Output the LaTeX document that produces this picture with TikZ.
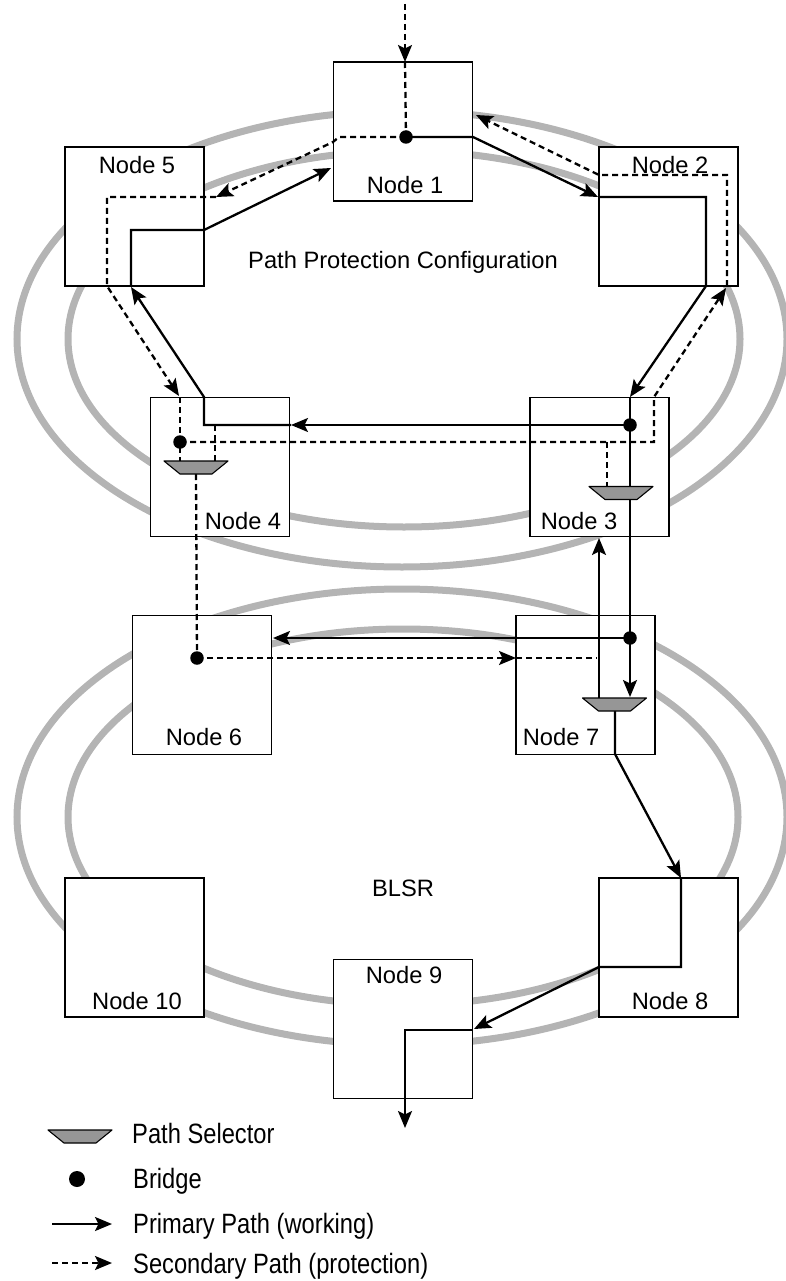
\documentclass[tikz,border=0pt]{standalone}
\usepackage{fontspec}
\setmainfont{Liberation Sans}
\usetikzlibrary{arrows.meta}
\definecolor{ringgray}{RGB}{180,180,180}
\definecolor{selgray}{RGB}{150,150,150}
\tikzset{
  ring/.style={draw=ringgray, line width=7pt},
  nbox/.style={draw=black, fill=white, line width=1.8pt, minimum width=139pt, minimum height=139pt, inner sep=0pt},
  nlabel/.style={inner sep=0pt, font=\fontsize{23.7}{28}\selectfont},
  prim/.style={draw=black, line width=2.3pt},
  sec/.style={draw=black, line width=2.3pt, dash pattern=on 6pt off 4pt},
  tip/.style={-{Stealth[length=17pt,width=14pt,inset=3.5pt]}},
  bridge/.style={circle, fill=black, minimum size=13.5pt, inner sep=0pt},
  selpic/.pic={\draw[line width=1.1pt, fill=selgray, line join=round] (-32,-6.5) -- (32,-6.5) -- (16,6.5) -- (-16,6.5) -- cycle;}
}
\begin{document}
\begin{tikzpicture}[x=1pt,y=-1pt]
\useasboundingbox (0,0) rectangle (786,1281);
% rings
\draw[ring] (402,339) ellipse [x radius=385pt, y radius=228pt];
\draw[ring] (404,339) ellipse [x radius=336pt, y radius=188pt];
\draw[ring] (402,817) ellipse [x radius=385pt, y radius=228pt];
\draw[ring] (403,817) ellipse [x radius=335pt, y radius=188pt];
% boxes
\node[nbox] (n1) at (403,131.5) {};
\node[nbox] (n5) at (134.5,216.5) {};
\node[nbox] (n2) at (668.5,216.5) {};
\node[nbox] (n4) at (220,467) {};
\node[nbox] (n3) at (599.5,467) {};
\node[nbox] (n6) at (202,685) {};
\node[nbox] (n7) at (585.5,685) {};
\node[nbox] (n10) at (134.5,947.5) {};
\node[nbox] (n8) at (668.5,947.5) {};
\node[nbox] (n9) at (403,1029) {};
% labels
\node[nlabel] (l1) at (405,185) {Node 1};
\node[nlabel] (l5) at (137,165) {Node 5};
\node[nlabel] (l2) at (670,165) {Node 2};
\node[nlabel] (l4) at (243,521) {Node 4};
\node[nlabel] (l3) at (579,521) {Node 3};
\node[nlabel] (l6) at (204,737) {Node 6};
\node[nlabel] (l7) at (561,737) {Node 7};
\node[nlabel] (l10) at (137,1001) {Node 10};
\node[nlabel] (l8) at (670,1001) {Node 8};
\node[nlabel] (l9) at (404,975) {Node 9};
\node[nlabel, anchor=base] (ppc) at (403,269) {Path Protection Configuration};
\node[nlabel] (blsr) at (403,888.5) {BLSR};
% bridges (coordinates first)
\coordinate (b1) at (406,137);
\coordinate (b3) at (630,425);
\coordinate (b4) at (180,442);
\coordinate (b6) at (197,658);
\coordinate (b7) at (630,638);
% primary path
\draw[prim,tip] (b1) -- (473,137) -- (598,197);
\draw[prim,tip] (599,197) -- (706,197) -- (706,286) -- (630,397);
\draw[prim] (630,397) -- (b7);
\draw[prim,tip] (b3) -- (291,425);
\draw[prim,tip] (291,425) -- (204,425) -- (204,397) -- (131,287);
\draw[prim,tip] (131,286) -- (131,230) -- (204,230) -- (331,168);
\draw[prim,tip] (b7) -- (273,638);
\draw[prim,tip] (b7) -- (630,697);
\draw[prim,tip] (599,698) -- (599,538);
\draw[prim,tip] (615,711) -- (615,754) -- (681,878);
\draw[prim,tip] (681,878) -- (681,967) -- (599,967) -- (474,1029);
\draw[prim,tip] (473,1030) -- (405,1030) -- (405,1128);
% secondary path
\draw[sec,tip] (405,4) -- (405,62);
\draw[sec] (405,62) -- (b1);
\draw[sec,tip] (b1) -- (339,137) -- (333,142) -- (216,197);
\draw[sec,tip] (216,197) -- (107,197) -- (107,286) -- (179,396);
\draw[sec] (180,397) -- (180,461);
\draw[sec] (215,425) -- (215,461);
\draw[sec] (196,474) -- (b6);
\draw[sec,tip] (b4) -- (654,442) -- (654,397) -- (726,288);
\draw[sec,tip] (727,286) -- (727,175) -- (599,175) -- (476,115);
\draw[sec] (607,442) -- (607,487);
\draw[sec,tip] (b6) -- (516,658);
\draw[sec] (516,658) -- (597,658);
% selectors
\pic at (196,467.5) {selpic};
\pic at (621,493) {selpic};
\pic at (614.5,704.5) {selpic};
% bridges
\node[bridge] (nb1) at (b1) {};
\node[bridge] (nb3) at (b3) {};
\node[bridge] (nb4) at (b4) {};
\node[bridge] (nb6) at (b6) {};
\node[bridge] (nb7) at (b7) {};
% legend
\pic at (80,1136.5) {selpic};
\node[bridge, minimum size=16pt] (lgb) at (77,1179) {};
\coordinate (lp1) at (52,1224);
\coordinate (lp2) at (112,1224);
\coordinate (ls1) at (52,1263);
\coordinate (ls2) at (112,1263);
\draw[prim,tip] (lp1) -- (lp2);
\draw[sec,tip] (ls1) -- (ls2);
\node[nlabel, anchor=base west] (t1) at (132,1143) {\scalebox{1}[1.18]{Path Selector}};
\node[nlabel, anchor=base west] (t2) at (133,1188) {\scalebox{1}[1.18]{Bridge}};
\node[nlabel, anchor=base west] (t3) at (133,1233) {\scalebox{1}[1.18]{Primary Path (working)}};
\node[nlabel, anchor=base west] (t4) at (133,1273) {\scalebox{1}[1.18]{Secondary Path (protection)}};
\end{tikzpicture}
\end{document}
